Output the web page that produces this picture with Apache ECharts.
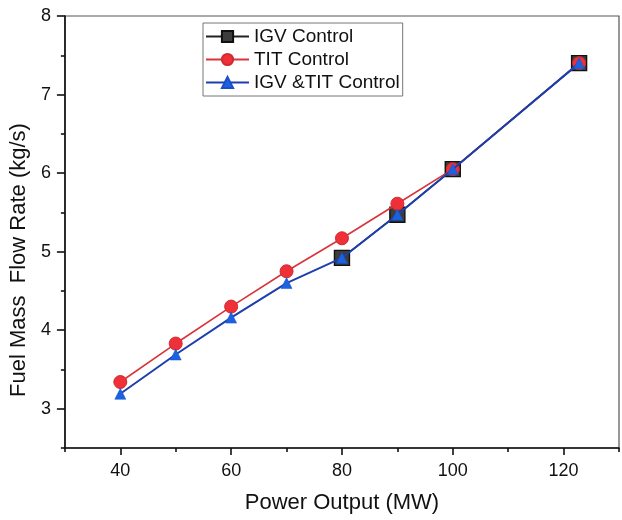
<!DOCTYPE html>
<html>
<head>
<meta charset="utf-8">
<script src="https://cdn.jsdelivr.net/npm/echarts@6/dist/echarts.min.js"></script>
<style>
  html, body { margin: 0; padding: 0; background: #fff; }
  #chart { width: 622px; height: 520px; }
</style>
</head>
<body>
<div id="chart"></div>
<script>
// Fuel mass flow rate versus power output for three control strategies
const seriesNames = ['IGV Control', 'TIT Control', 'IGV &TIT Control'];

const igvPower = [80, 90, 100, 122.8];
const igvFuel = [4.92, 5.47, 6.05, 7.4];

const titPower = [40, 50, 60, 70, 80, 90, 100, 122.8];
const titFuel = [3.34, 3.83, 4.30, 4.75, 5.17, 5.61, 6.05, 7.4];

const bothPower = [40, 50, 60, 70, 80, 90, 100, 122.8];
const bothFuel = [3.19, 3.69, 4.16, 4.60, 4.92, 5.47, 6.05, 7.4];

const xMajorTicks = [40, 60, 80, 100, 120];
const xMinorTicks = [30, 50, 70, 90, 110, 130];
const yMajorTicks = [3, 4, 5, 6, 7, 8];
const yMinorTicks = [2.5, 3.5, 4.5, 5.5, 6.5, 7.5];

const pairs = (xs, ys) => xs.map((x, i) => [x, ys[i]]);

const font = 'Liberation Sans, Arial, sans-serif';
const chart = echarts.init(document.getElementById('chart'), null, { renderer: 'canvas' });

const baseAxis = {
  type: 'value',
  splitLine: { show: false }
};

chart.setOption({
  animation: false,
  backgroundColor: '#fff',
  grid: {
    left: 62, right: 3, top: 16, bottom: 72,
    show: true, borderColor: '#555', borderWidth: 1.2
  },
  legend: {
    data: seriesNames,
    orient: 'vertical',
    left: 203, top: 23,
    itemWidth: 43, itemHeight: 14, itemGap: 2,
    padding: [3, 3, 3, 2],
    borderColor: '#777', borderWidth: 1,
    backgroundColor: '#fff',
    textStyle: { fontFamily: font, fontSize: 19, lineHeight: 21, color: '#111' }
  },
  xAxis: [
    Object.assign({}, baseAxis, {
      min: 30, max: 130, position: 'bottom',
      name: 'Power Output (MW)', nameLocation: 'middle', nameGap: 44,
      nameTextStyle: { fontFamily: font, fontSize: 22, color: '#111' },
      axisLine: { show: true, lineStyle: { color: '#111', width: 1.6 } },
      axisTick: { show: true, customValues: xMajorTicks, length: 7, lineStyle: { color: '#111', width: 1.6 } },
      axisLabel: { customValues: xMajorTicks, margin: 14, fontFamily: font, fontSize: 18, color: '#111' }
    }),
    Object.assign({}, baseAxis, {
      min: 30, max: 130, position: 'bottom',
      axisLine: { show: false },
      axisTick: { show: true, customValues: xMinorTicks, length: 4, lineStyle: { color: '#111', width: 1.6 } },
      axisLabel: { show: false }
    })
  ],
  yAxis: [
    Object.assign({}, baseAxis, {
      min: 2.5, max: 8, position: 'left',
      name: 'Fuel Mass  Flow Rate (kg/s)', nameLocation: 'middle', nameGap: 33,
      nameTextStyle: { fontFamily: font, fontSize: 22, color: '#111', padding: [0, 56, 0, 0] },
      axisLine: { show: true, lineStyle: { color: '#111', width: 1.6 } },
      axisTick: { show: true, customValues: yMajorTicks, length: 8, lineStyle: { color: '#111', width: 1.6 } },
      axisLabel: { customValues: yMajorTicks, margin: 14, fontFamily: font, fontSize: 18, color: '#111' }
    }),
    Object.assign({}, baseAxis, {
      min: 2.5, max: 8, position: 'left',
      axisLine: { show: false },
      axisTick: { show: true, customValues: yMinorTicks, length: 4, lineStyle: { color: '#111', width: 1.6 } },
      axisLabel: { show: false }
    })
  ],
  series: [
    {
      name: seriesNames[0], type: 'line', data: pairs(igvPower, igvFuel),
      symbol: 'rect', symbolSize: 15,
      lineStyle: { color: '#222', width: 1.6 },
      itemStyle: { color: '#3d3d3d', borderColor: '#111', borderWidth: 1.4 },
      z: 2
    },
    {
      name: seriesNames[1], type: 'line', data: pairs(titPower, titFuel),
      symbol: 'circle', symbolSize: 13,
      lineStyle: { color: '#d8343a', width: 1.6 },
      itemStyle: { color: '#ef3038', borderColor: '#cf2a30', borderWidth: 1 },
      z: 3
    },
    {
      name: seriesNames[2], type: 'line', data: pairs(bothPower, bothFuel),
      symbol: 'triangle', symbolSize: 11,
      lineStyle: { color: '#1c3fae', width: 2 },
      itemStyle: { color: '#1a62e0', borderColor: '#1a4fc8', borderWidth: 0.5 },
      z: 4
    }
  ]
});
</script>
</body>
</html>
